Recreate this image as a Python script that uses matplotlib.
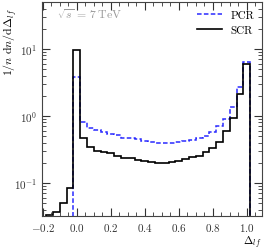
import numpy as np
import matplotlib
matplotlib.use('Agg')
import matplotlib.pyplot as plt
from matplotlib.ticker import MultipleLocator, LogLocator, NullFormatter

plt.rcParams['font.family'] = 'serif'
plt.rcParams['font.serif'] = ['cmr10', 'DejaVu Serif']
plt.rcParams['mathtext.fontset'] = 'cm'
plt.rcParams['axes.formatter.use_mathtext'] = True
plt.rcParams['font.size'] = 8

# bin edges of the histograms (width 0.04)
edges_scr = np.round(np.arange(-0.18, 1.0201, 0.04), 2)
edges_pcr = np.round(np.arange(-0.02, 1.0201, 0.04), 2)

# SCR (black), one value per bin
scr = [0.0335, 0.037, 0.050, 0.083, 9.6,
       0.465, 0.341, 0.303, 0.287, 0.277, 0.256, 0.239,
       0.234, 0.220, 0.211, 0.204, 0.201, 0.201, 0.208, 0.215, 0.228, 0.242,
       0.255, 0.287, 0.330, 0.413, 0.60, 0.93, 2.13, 5.97]

# PCR (blue dashed)
pcr = [3.86,
       0.82, 0.655, 0.62, 0.57, 0.545, 0.51, 0.475,
       0.47, 0.446, 0.428, 0.409, 0.395, 0.392, 0.40, 0.413, 0.428, 0.443,
       0.465, 0.508, 0.571, 0.70, 0.90, 1.35, 2.68, 6.33]

fig = plt.figure(figsize=(2.66, 2.51), dpi=100)
ax = fig.add_axes([0.158, 0.134, 0.827, 0.854])
ax.set_yscale('log')

ax.stairs(pcr, edges_pcr, color='#2a2aff', lw=1.1, ls=(0, (3, 1.5)), label='PCR')
ax.stairs(scr, edges_scr, color='black', lw=1.2, label='SCR')

ax.set_xlim(-0.205, 1.09)
ax.set_ylim(10**-1.5, 50)

ax.xaxis.set_major_locator(MultipleLocator(0.2))
ax.xaxis.set_minor_locator(MultipleLocator(0.05))
ax.yaxis.set_major_locator(LogLocator(base=10))
ax.yaxis.set_minor_locator(LogLocator(base=10, subs=np.arange(2, 10)))
ax.yaxis.set_minor_formatter(NullFormatter())
ax.tick_params(which='both', direction='in', top=True, right=True, colors='#333333', labelcolor='#333333')
ax.tick_params(which='major', length=6, width=0.8)
ax.tick_params(which='minor', length=3, width=0.6)
for s in ax.spines.values():
    s.set_color('#444444')

ax.set_xlabel(r'$\Delta_{lf}$', fontsize=8, ha='right')
ax.xaxis.set_label_coords(0.995, -0.08)
ax.set_ylabel(r'$1/n\ \mathrm{d}n/\mathrm{d}\Delta_{lf}$', fontsize=8.5, ha='right')
ax.yaxis.set_label_coords(-0.105, 0.975)

ax.text(0.07, 0.925, r'$\sqrt{s}\,=\,7\;\mathrm{TeV}$', transform=ax.transAxes,
        color='#999999', fontsize=8.5)

ax.legend(loc='upper right', frameon=False, fontsize=8, handlelength=2.2,
          borderaxespad=0.3, labelspacing=0.5)

fig.savefig('out.png', dpi=100)
